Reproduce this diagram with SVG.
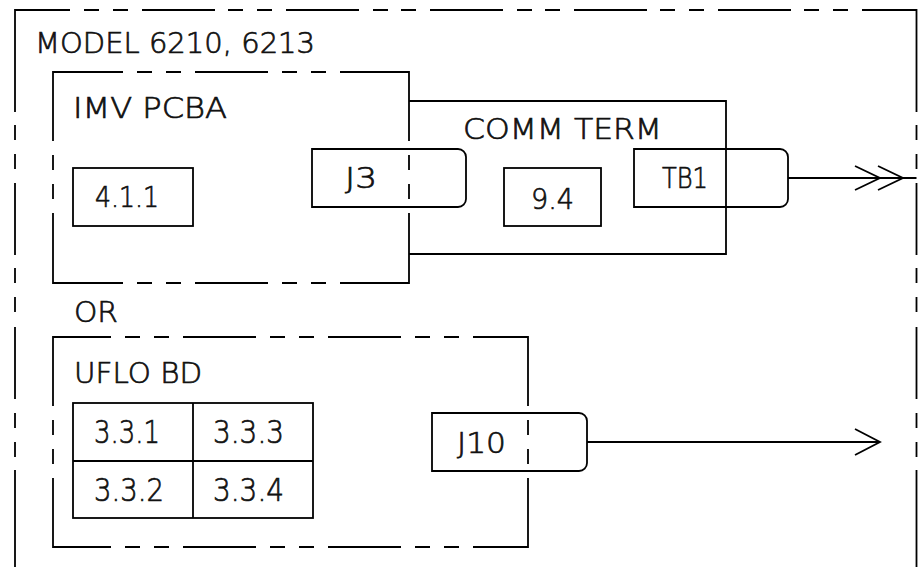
<svg xmlns="http://www.w3.org/2000/svg" width="918" height="567" viewBox="0 0 918 567">
<style>
.ln{fill:none;stroke:#000;stroke-width:1.8;stroke-linecap:butt;stroke-linejoin:miter}
.t{font-family:"DejaVu Sans","Liberation Sans",sans-serif;font-size:29px;font-weight:300;fill:#111;stroke:#111;stroke-width:0.7}
.tb{font-family:"DejaVu Sans","Liberation Sans",sans-serif;font-size:32px;font-weight:300;fill:#111;stroke:#111;stroke-width:0.7}
</style>
<rect x="0" y="0" width="918" height="567" fill="#fff"/>
<g id="model">
<path class="ln" d="M15 112V10H70M84 10H99M113 10H128M142 10H215M228 10H243M257 10H272M286 10H359M373 10H388M401 10H416M430 10H503M517 10H532M545 10H560M574 10H647M660 10H675M689 10H704M718 10H791M804 10H819M833 10H848M862 10H916.5V112"/>
<path class="ln" d="M15 125V140M15 154V169M15 183V255M15 268V283M15 297V312M15 327V399M15 413V428M15 442V457M15 470V570"/>
<path class="ln" d="M916.5 125V140M916.5 154V169M916.5 183V255M916.5 268V283M916.5 297V312M916.5 327V399M916.5 413V428M916.5 442V457M916.5 470V570"/>
<text class="t" x="35" y="53" textLength="280" lengthAdjust="spacingAndGlyphs">MODEL 6210, 6213</text>
<text class="t" x="74" y="322" textLength="44" lengthAdjust="spacingAndGlyphs">OR</text>
</g>
<g id="imv">
<path class="ln" d="M53 141V72H123M137 72H152M166 72H181M195 72H268M282 72H297M311 72H326M340 72H409V141"/>
<path class="ln" d="M53 213V283H123M137 283H152M166 283H181M195 283H268M282 283H297M311 283H326M340 283H409V213"/>
<path class="ln" d="M53 155V170M53 184V199M409 155V170M409 184V199"/>
<text class="t" x="73" y="118" textLength="154" lengthAdjust="spacingAndGlyphs">IMV PCBA</text>
</g>
<g id="box411">
<rect class="ln" x="73" y="168" width="120" height="58"/>
<text class="t" x="95" y="207" textLength="64" lengthAdjust="spacingAndGlyphs">4.1.1</text>
</g>
<g id="comm">
<path class="ln" d="M409 101H726V254H409"/>
<text class="t" x="463" y="139" textLength="199" lengthAdjust="spacingAndGlyphs">COMM TERM</text>
</g>
<g id="j3">
<path class="ln" d="M312 149H458A8 8 0 0 1 466 157V199A8 8 0 0 1 458 207H312Z"/>
<text class="t" x="345" y="188" textLength="32" lengthAdjust="spacingAndGlyphs">J3</text>
</g>
<g id="box94">
<rect class="ln" x="504" y="168" width="97" height="58"/>
<text class="t" x="531" y="209" textLength="43" lengthAdjust="spacingAndGlyphs">9.4</text>
</g>
<g id="tb1">
<path class="ln" d="M634 149H780A8 8 0 0 1 788 157V199A8 8 0 0 1 780 207H634Z"/>
<text class="t" x="662" y="188" textLength="46" lengthAdjust="spacingAndGlyphs">TB1</text>
</g>
<g id="uflo">
<path class="ln" d="M53 406V337H111M125 337H140M154 337H169M183 337H256M270 337H285M299 337H314M328 337H401M415 337H430M444 337H459M473 337H528V406"/>
<path class="ln" d="M53 478V547H111M125 547H140M154 547H169M183 547H256M270 547H285M299 547H314M328 547H401M415 547H430M444 547H459M473 547H528V478"/>
<path class="ln" d="M53 420V435M53 449V464M528 420V435M528 449V464"/>
<text class="t" x="74" y="383" textLength="128" lengthAdjust="spacingAndGlyphs">UFLO BD</text>
</g>
<g id="table">
<rect class="ln" x="73" y="403" width="240" height="115"/>
<path class="ln" d="M193 403V518M73 461H313"/>
<text class="tb" x="94" y="443" textLength="66" lengthAdjust="spacingAndGlyphs">3.3.1</text>
<text class="tb" x="213" y="443" textLength="71" lengthAdjust="spacingAndGlyphs">3.3.3</text>
<text class="tb" x="94" y="501" textLength="70" lengthAdjust="spacingAndGlyphs">3.3.2</text>
<text class="tb" x="213" y="501" textLength="71" lengthAdjust="spacingAndGlyphs">3.3.4</text>
</g>
<g id="j10">
<path class="ln" d="M432 413H579A8 8 0 0 1 587 421V463A8 8 0 0 1 579 471H432Z"/>
<text class="t" x="457" y="453" textLength="49" lengthAdjust="spacingAndGlyphs">J10</text>
</g>
<g id="connectors">
<path class="ln" d="M788 178H916.5"/>
<path class="ln" d="M855 166L880 178L855 190M878 166L903 178L878 190"/>
<path class="ln" d="M587 442H880"/>
<path class="ln" d="M855 429L880 442L855 455"/>
</g>
</svg>
